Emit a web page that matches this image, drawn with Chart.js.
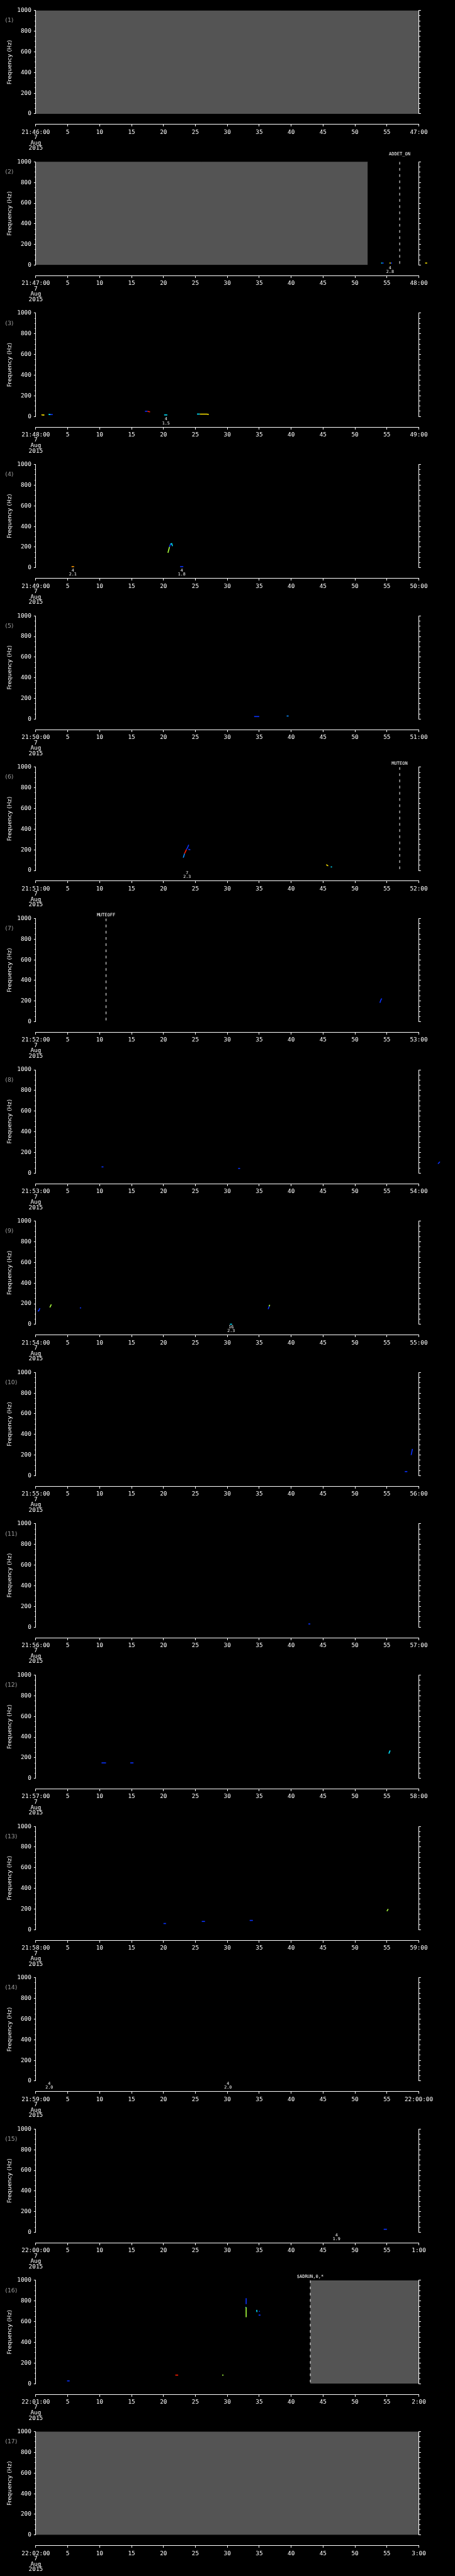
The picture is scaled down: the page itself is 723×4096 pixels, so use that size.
<!DOCTYPE html>
<html>
<head>
<meta charset="utf-8">
<script src="https://cdn.jsdelivr.net/npm/chart.js@4.4.1/dist/chart.umd.min.js"></script>
<style>
  html, body { margin: 0; padding: 0; background: #000; }
  #wrap { position: relative; width: 723px; height: 4096px; overflow: hidden; }
  #wrap canvas { position: absolute; left: 0; }
</style>
</head>
<body>
<div id="wrap"></div>
<script>
// ---- data ----
const panelStarts = ["21:46:00", "21:47:00", "21:48:00", "21:49:00", "21:50:00", "21:51:00",
  "21:52:00", "21:53:00", "21:54:00", "21:55:00", "21:56:00", "21:57:00", "21:58:00",
  "21:59:00", "22:00:00", "22:01:00", "22:02:00"];
const panelEnds = ["47:00", "48:00", "49:00", "50:00", "51:00", "52:00", "53:00", "54:00",
  "55:00", "56:00", "57:00", "58:00", "59:00", "22:00:00", "1:00", "2:00", "3:00"];
const dateLines = ["7", "Aug", "2015"];

// grey "no data" blocks: panel number, from second, to second
const grayPanel = [1, 2, 16, 17];
const grayFrom = [0, 0, 43, 0];
const grayTo = [60, 52, 60, 60];

// event markers (dashed lines)
const eventPanel = [2, 6, 7, 16];
const eventTime = [57, 57, 11, 43];
const eventText = ["ADDET_ON", "MUTEON", "MUTEOFF", "$ADRUN,0,*"];
const eventRow = [1, 0, 0, 0];

// detections written under the axis
const detPanel = [2, 3, 4, 4, 6, 9, 14, 14, 15];
const detTime = [55.5, 20.4, 5.8, 22.85, 23.7, 30.6, 2.1, 30.1, 47.1];
const detTop = ["4", "4", "4", "4", "7", "16", "4", "4", "4"];
const detBottom = ["2.8", "1.5", "2.1", "1.8", "2.3", "2.3", "2.0", "2.0", "1.9"];

// spectrogram traces: [second, Hz, intensity 1..7]
const marks01 = [];
const marks02 = [
  [[54.1, 20, 3], [54.3, 20, 1], [54.5, 20, 1]],
  [[55.4, 20, 5], [55.6, 20, 1], [55.8, 20, 1]],
  [[61.0, 20, 5], [61.3, 20, 1], [61.5, 20, 1]]
];
const marks03 = [
  [[0.88, 17, 5], [1.1, 14, 5], [1.34, 14, 1]],
  [[2.0, 20, 3], [2.3, 19, 1], [2.65, 19, 1]],
  [[17.1, 50, 1], [17.5, 50, 7], [17.9, 44, 3]],
  [[20.1, 15, 3], [20.6, 15, 1]],
  [[25.25, 23, 3], [25.7, 23, 5], [26.8, 23, 5], [27.1, 20, 1]]
];
const marks04 = [
  [[5.6, 11, 6], [6.0, 11, 5]],
  [[20.7, 145, 4], [20.95, 203, 1], [21.1, 231, 3], [21.3, 234, 3], [21.4, 210, 2]],
  [[22.6, 11, 1], [23.1, 11, 1]]
];
const marks05 = [
  [[34.2, 25, 1], [35.0, 25, 1]],
  [[39.3, 30, 2], [39.6, 30, 1]]
];
const marks06 = [
  [[23.1, 124, 2], [23.3, 163, 7], [23.6, 203, 1], [23.8, 224, 1], [23.95, 249, 1]],
  [[23.9, 205, 1], [24.2, 200, 1]],
  [[45.5, 56, 5], [45.8, 44, 5]],
  [[46.2, 34, 3], [46.4, 34, 3]]
];
const marks07 = [
  [[53.9, 184, 1], [54.05, 210, 1], [54.2, 226, 2]]
];
const marks08 = [
  [[10.3, 60, 1], [10.6, 60, 1]],
  [[31.7, 45, 1], [32.0, 45, 1]],
  [[63.0, 90, 1], [63.3, 110, 1]]
];
const marks09 = [
  [[0.3, 131, 1], [0.45, 131, 1], [0.65, 157, 2]],
  [[2.2, 164, 4], [2.43, 193, 3]],
  [[6.9, 160, 1], [7.1, 160, 1]],
  [[36.4, 149, 1], [36.55, 175, 4], [36.65, 190, 4]],
  [[30.4, 2, 3], [30.75, 2, 3]]
];
const marks10 = [
  [[58.8, 200, 1], [59.0, 260, 3]],
  [[57.8, 40, 1], [58.2, 40, 1]]
];
const marks11 = [
  [[42.7, 30, 1], [43.0, 30, 1]]
];
const marks12 = [
  [[10.3, 150, 1], [11.0, 150, 1]],
  [[14.8, 150, 1], [15.3, 150, 1]],
  [[55.3, 240, 3], [55.5, 270, 3]]
];
const marks13 = [
  [[20.0, 60, 1], [20.4, 60, 1]],
  [[26.0, 80, 1], [26.5, 80, 1]],
  [[33.5, 90, 1], [34.0, 90, 1]],
  [[55.0, 180, 4], [55.2, 200, 4]]
];
const marks14 = [];
const marks15 = [
  [[54.5, 30, 1], [55.0, 30, 1]]
];
const marks16 = [
  [[4.9, 27, 1], [5.3, 27, 1]],
  [[21.85, 83, 7], [22.3, 83, 1]],
  [[29.2, 83, 4], [29.4, 83, 7]],
  [[32.95, 827, 1], [32.95, 770, 1]],
  [[32.85, 739, 3], [32.95, 739, 4], [32.95, 644, 4]],
  [[34.6, 714, 3], [34.65, 693, 5]],
  [[35.0, 704, 1], [35.05, 696, 1]],
  [[34.9, 664, 1], [35.2, 664, 3]]
];
const marks17 = [];

const allMarks = [marks01, marks02, marks03, marks04, marks05, marks06, marks07, marks08, marks09,
  marks10, marks11, marks12, marks13, marks14, marks15, marks16, marks17];

// intensity colour table
const levelColors = [null, "#0a32ff", "#0a8cff", "#00e1ff", "#a8ff3c", "#ffe600", "#ff9a00", "#ff1e00"];

// ---- layout (reference px, scaled by S) ----
const S = 0.705;
const PITCH = 341.3;       // panel pitch
const PLOT_TOP = 23.7;
const PLOT_H = 233;
const PLOT_L = 80.7;
const PLOT_R = 944;
const AXIS_GAP = 24;       // x axis sits this far below 0 Hz
const CANVAS_H = 242;
const GRAY = "rgb(84,84,84)";
const MONO = "'DejaVu Sans Mono', monospace";
const SANS = "'DejaVu Sans', sans-serif";

const panelText = {
  id: "panelText",
  afterDraw(chart, args, opts) {
    const k = opts.panel;
    const ctx = chart.ctx;
    const area = chart.chartArea;
    const x = chart.scales.x;
    ctx.save();
    ctx.textBaseline = "middle";

    // panel number
    ctx.fillStyle = "#9c9c9c";
    ctx.font = (13.3 * S) + "px " + SANS;
    ctx.textAlign = "left";
    ctx.fillText("(" + (k + 1) + ")", 11.7 * S, area.top + 23 * S);

    ctx.fillStyle = "#fff";
    ctx.textAlign = "center";
    ctx.font = (10 * S) + "px " + MONO;
    eventPanel.forEach((p, i) => {
      if (p !== k + 1) return;
      const lift = eventRow[i] ? 17.4 : 8;
      ctx.fillText(eventText[i], x.getPixelForValue(eventTime[i]), area.top - lift * S);
    });

    ctx.font = (9.5 * S) + "px " + MONO;
    detPanel.forEach((p, i) => {
      if (p !== k + 1) return;
      const px = x.getPixelForValue(detTime[i]);
      ctx.fillText(detTop[i], px, area.bottom + 6 * S);
      ctx.fillText(detBottom[i], px, area.bottom + 15 * S);
    });
    ctx.restore();
  }
};

const wrap = document.getElementById("wrap");

for (let k = 0; k < 17; k++) {
  const top = Math.round(k * PITCH * S);
  const canvas = document.createElement("canvas");
  canvas.width = 723;
  canvas.height = CANVAS_H;
  canvas.style.top = top + "px";
  wrap.appendChild(canvas);

  const plotTop = (PLOT_TOP + k * PITCH) * S - top;
  const plotBottom = plotTop + PLOT_H * S;

  const datasets = [];

  allMarks[k].forEach((pts) => {
    datasets.push({
      data: pts.map((p) => ({ x: p[0], y: p[1] })),
      borderColor: levelColors[pts[0][2]],
      segment: { borderColor: (c) => levelColors[pts[c.p0DataIndex][2]] },
      borderWidth: 1.6,
      pointRadius: 0,
      tension: 0,
      clip: false,
      order: 0
    });
  });

  eventPanel.forEach((p, i) => {
    if (p !== k + 1) return;
    datasets.push({
      data: [{ x: eventTime[i], y: 1000 }, { x: eventTime[i], y: 0 }],
      borderColor: "#fff",
      borderWidth: 1,
      borderDash: [6 * S, 8 * S],
      pointRadius: 0,
      order: 1
    });
  });

  grayPanel.forEach((p, i) => {
    if (p !== k + 1) return;
    datasets.push({
      data: [{ x: grayFrom[i], y: 1000 }, { x: grayTo[i], y: 1000 }],
      borderColor: GRAY,
      borderWidth: 1,
      backgroundColor: GRAY,
      fill: { value: 0 },
      pointRadius: 0,
      order: 5
    });
  });

  const tickFont = { family: MONO, size: 13.3 * S };

  new Chart(canvas, {
    type: "line",
    data: { datasets },
    options: {
      responsive: false,
      animation: false,
      events: [],
      layout: {
        padding: { top: plotTop, bottom: CANVAS_H - plotBottom, left: 0, right: 0 }
      },
      plugins: {
        legend: { display: false },
        tooltip: { enabled: false },
        panelText: { panel: k }
      },
      scales: {
        x: {
          type: "linear",
          min: 0,
          max: 60,
          position: { y: -AXIS_GAP / PLOT_H * 1000 },
          ticks: {
            stepSize: 5,
            autoSkip: false,
            maxRotation: 0,
            color: "#fff",
            padding: 7.2 * S,
            font: { family: MONO, size: 13.3 * S, lineHeight: (12.1 * S) + "px" },
            callback: (v) => {
              if (v === 0) return [panelStarts[k]].concat(dateLines);
              if (v === 60) return panelEnds[k];
              return String(v);
            }
          },
          grid: { drawOnChartArea: false, color: "#fff", tickLength: 4.3 * S },
          border: { color: "#fff", width: 1 }
        },
        y: {
          type: "linear",
          min: 0,
          max: 1000,
          position: "left",
          afterFit: (s) => { s.width = PLOT_L * S; },
          ticks: { stepSize: 200, color: "#fff", padding: 5.7 * S, font: tickFont, callback: (v) => String(v) },
          grid: { drawOnChartArea: false, color: "#fff", tickLength: 4.3 * S },
          border: { color: "#fff", width: 1, z: 1 },
          title: {
            display: true,
            text: "Frequency (Hz)",
            color: "#fff",
            font: { family: SANS, size: 13.3 * S, lineHeight: 1 },
            padding: { top: 22.3 * S - 13.3 * S / 2, bottom: 0 }
          }
        },
        yMinor: {
          axis: "y",
          type: "linear",
          min: 0,
          max: 1000,
          position: { x: 0 },
          ticks: { stepSize: 50, display: false },
          grid: { drawOnChartArea: false, color: "#fff", tickLength: 2.7 * S },
          border: { display: false }
        },
        yR: {
          axis: "y",
          type: "linear",
          min: 0,
          max: 1000,
          position: "right",
          afterFit: (s) => { s.width = 723 - PLOT_R * S; },
          ticks: { stepSize: 200, display: false },
          grid: { drawOnChartArea: false, color: "#fff", tickLength: 4.7 * S },
          border: { color: "#fff", width: 1, z: 1 }
        },
        yRMinor: {
          axis: "y",
          type: "linear",
          min: 0,
          max: 1000,
          position: { x: 60 },
          ticks: { stepSize: 50, display: false },
          grid: { drawOnChartArea: false, color: "#fff", tickLength: -3 * S },
          border: { display: false }
        }
      }
    },
    plugins: [panelText]
  });
}
</script>
</body>
</html>
